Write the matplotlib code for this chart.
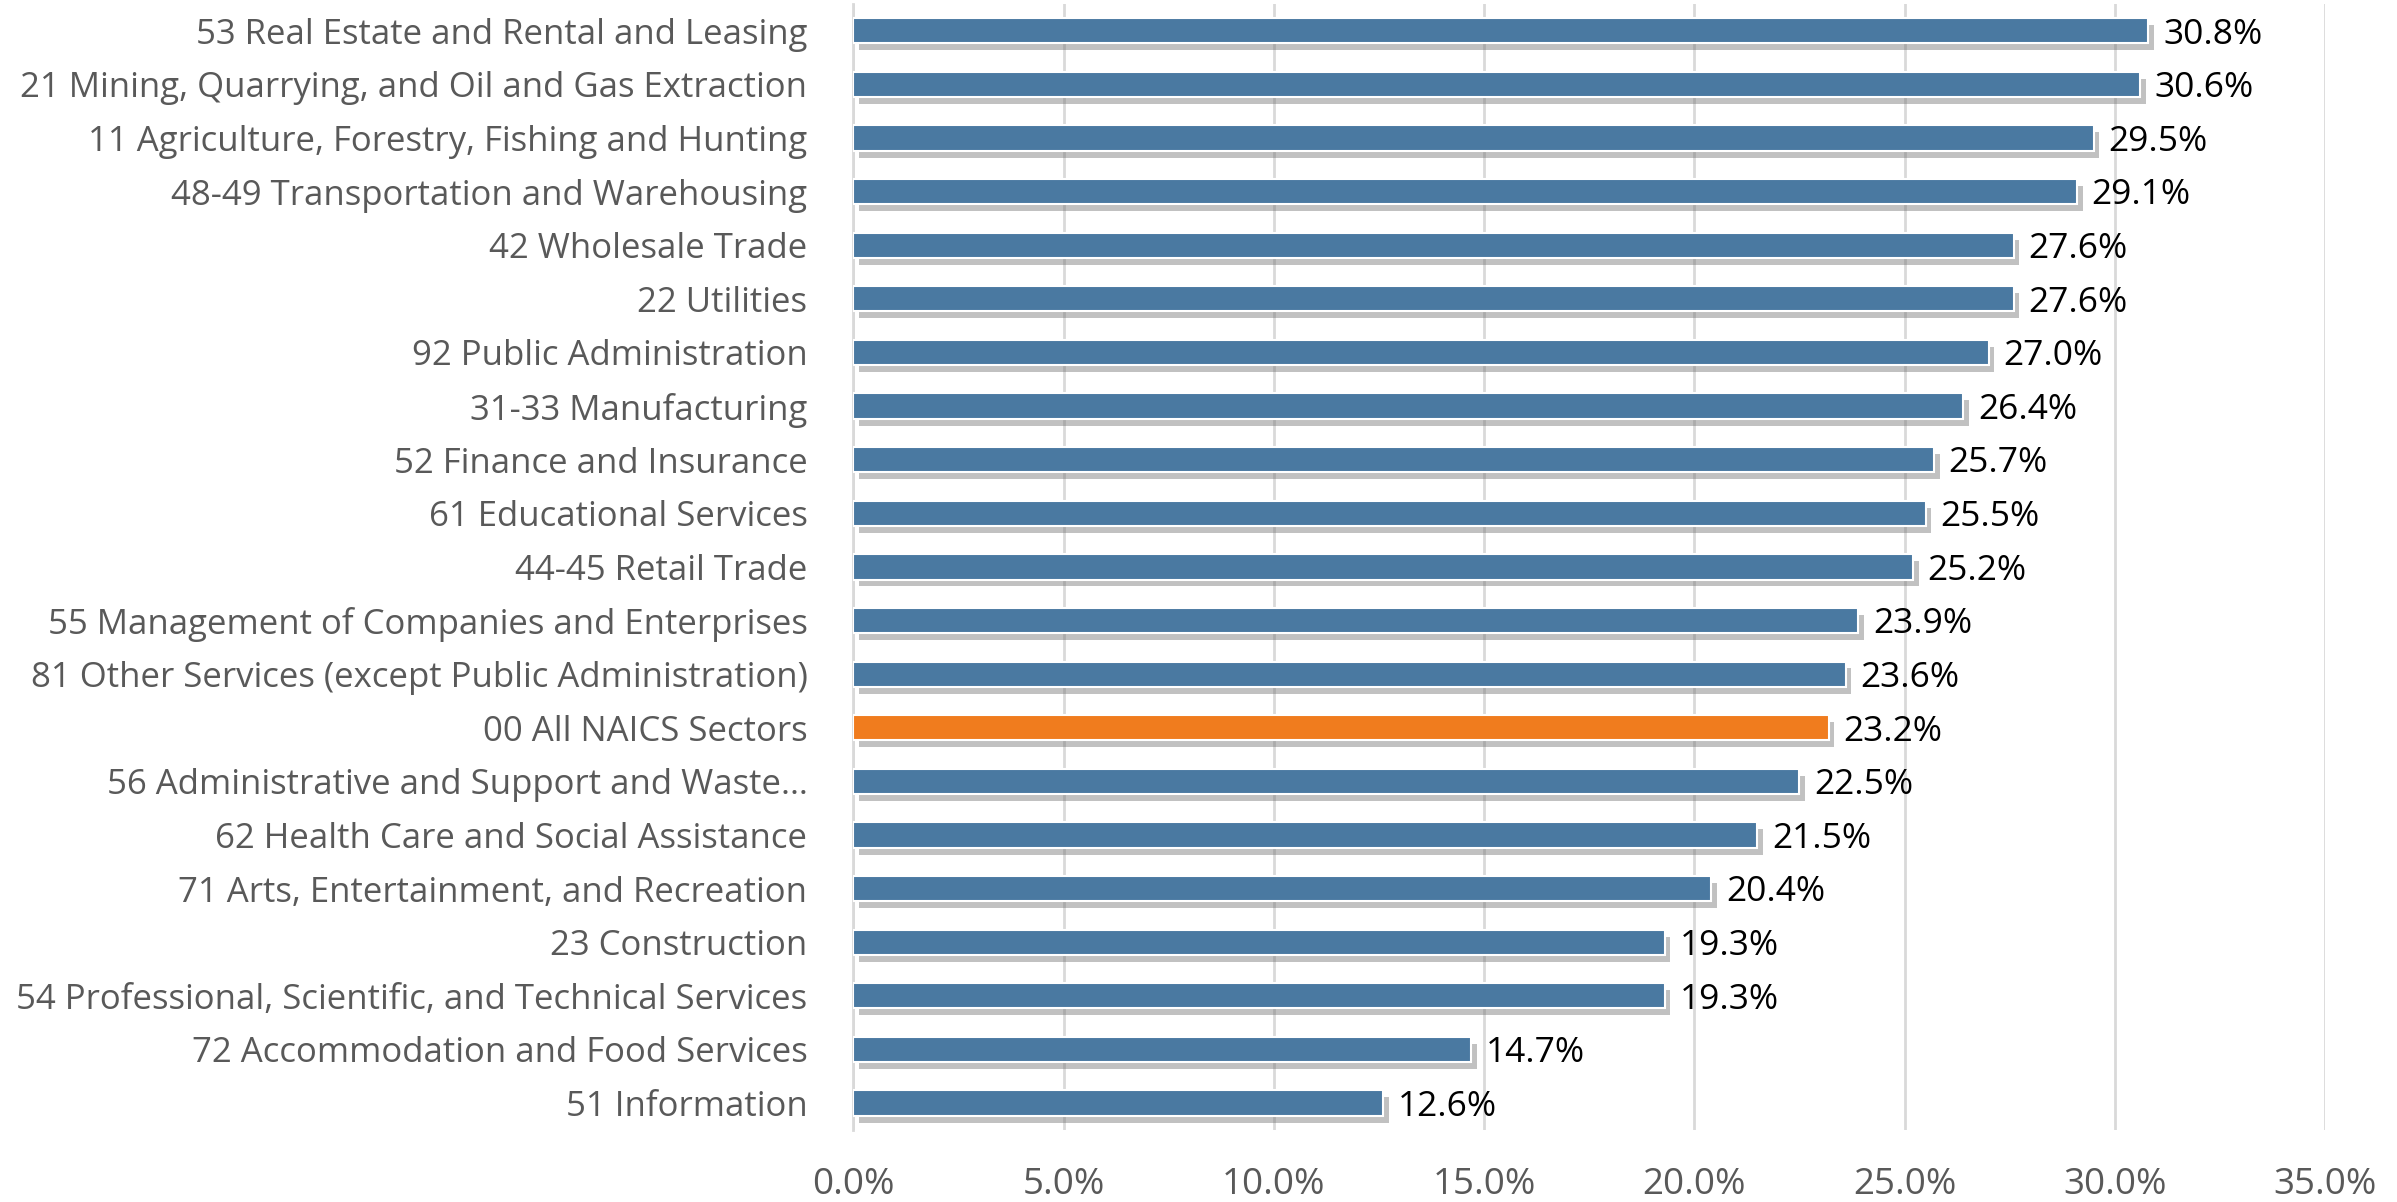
import matplotlib.pyplot as plt
import matplotlib.patheffects as pe
from matplotlib.ticker import FuncFormatter

plt.rcParams['font.family'] = ['Open Sans', 'DejaVu Sans']

sectors = [
    '53 Real Estate and Rental and Leasing',
    '21 Mining, Quarrying, and Oil and Gas Extraction',
    '11 Agriculture, Forestry, Fishing and Hunting',
    '48-49 Transportation and Warehousing',
    '42 Wholesale Trade',
    '22 Utilities',
    '92 Public Administration',
    '31-33 Manufacturing',
    '52 Finance and Insurance',
    '61 Educational Services',
    '44-45 Retail Trade',
    '55 Management of Companies and Enterprises',
    '81 Other Services (except Public Administration)',
    '00 All NAICS Sectors',
    '56 Administrative and Support and Waste\u2026',
    '62 Health Care and Social Assistance',
    '71 Arts, Entertainment, and Recreation',
    '23 Construction',
    '54 Professional, Scientific, and Technical Services',
    '72 Accommodation and Food Services',
    '51 Information',
]
values = [30.8, 30.6, 29.5, 29.1, 27.6, 27.6, 27.0, 26.4, 25.7, 25.5, 25.2,
          23.9, 23.6, 23.2, 22.5, 21.5, 20.4, 19.3, 19.3, 14.7, 12.6]
highlight = '00 All NAICS Sectors'

blue = '#4a79a1'
orange = '#f07c1e'
colors = [orange if s == highlight else blue for s in sectors]

fig = plt.figure(figsize=(23.97, 12.02), dpi=100)
ax = fig.add_axes([0.356, 0.060, 0.614, 0.9367])

pos = list(range(len(sectors)))
bars = ax.barh(pos, values, height=0.47, color=colors, edgecolor='white',
               linewidth=1.5, zorder=3)
for b in bars:
    b.set_path_effects([pe.SimplePatchShadow(offset=(4, -5), shadow_rgbFace='#666666', alpha=0.4),
                        pe.Normal()])

for p, v in zip(pos, values):
    ax.text(v + 0.35, p + 0.07, f'{v:.1f}%', va='center', ha='left',
            fontsize=25.5, color='black', zorder=4)

ax.set_ylim(len(sectors) - 0.5, -0.5)
ax.set_xlim(0, 35)
ax.set_xticks(range(0, 36, 5))
ax.xaxis.set_major_formatter(FuncFormatter(lambda x, _: f'{x:.1f}%'))
ax.set_yticks(pos)
ax.set_yticklabels(sectors)
ax.tick_params(axis='y', length=0, pad=33, labelsize=25, labelcolor='#595959')
ax.tick_params(axis='x', length=0, pad=27, labelsize=26.5, labelcolor='#595959')

ax.grid(axis='x', color='#d9d9d9', linewidth=2, zorder=0)
ax.set_axisbelow(True)
for side in ['top', 'right', 'bottom']:
    ax.spines[side].set_visible(False)
ax.spines['left'].set_color('#d9d9d9')
ax.spines['left'].set_linewidth(2)

fig.savefig('out.png', dpi=100)
